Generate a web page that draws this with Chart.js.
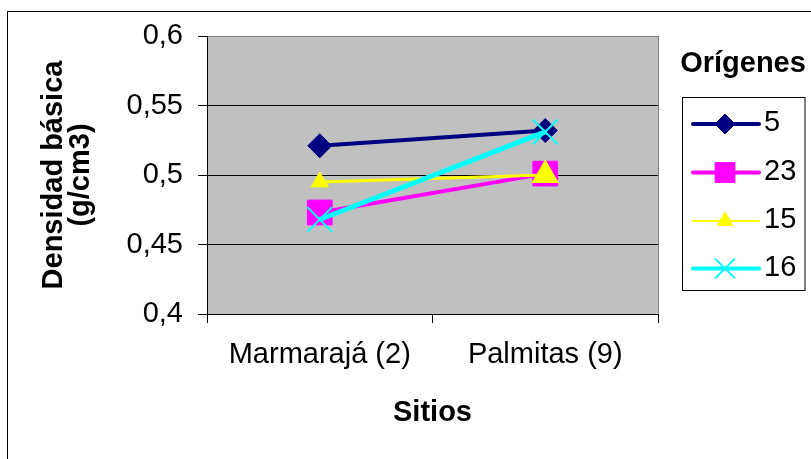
<!DOCTYPE html>
<html><head><meta charset="utf-8">
<script src="https://cdn.jsdelivr.net/npm/chart.js@4"></script>
<style>html,body{margin:0;padding:0;background:#fff;} canvas{display:block;}</style>
</head><body>
<canvas id="c" width="811" height="459"></canvas>
<script>
const categories = ['Marmarajá (2)', 'Palmitas (9)'];
const seriesNames = ['5', '23', '15', '16'];
const s5  = [0.521, 0.532];
const s23 = [0.473, 0.501];
const s15 = [0.495, 0.500];
const s16 = [0.468, 0.531];
const yTickLabels = ['0,4', '0,45', '0,5', '0,55', '0,6'];
const yTitle = ['Densidad básica', '(g/cm3)'];
const xTitle = 'Sitios';
const legendTitle = 'Orígenes';

const FONT = "'Liberation Sans', Arial, sans-serif";
Chart.defaults.font.family = FONT;
Chart.defaults.color = '#000';

const styles = [
  {color:'#000080', lw:4, legLw:4, ps:'rectRot', r:12, legR:10, bw:1},
  {color:'#FF00FF', lw:4, legLw:4, ps:'rect', r:17.5, legR:14, bw:1},
  {color:'#FFFF00', lw:3, legLw:2, ps:'triangle', r:[10,15], legR:9, bw:1},
  {color:'#00FFFF', lw:5, legLw:4, ps:'crossRot', r:17.5, legR:14, bw:2}
];
const seriesData = [s5, s23, s15, s16];

const datasets = seriesData.map((d, i) => ({
  label: seriesNames[i],
  data: d,
  borderColor: styles[i].color,
  backgroundColor: styles[i].color,
  borderWidth: styles[i].lw,
  pointStyle: styles[i].ps,
  pointRadius: styles[i].r,
  pointHoverRadius: styles[i].r,
  pointBorderWidth: styles[i].bw,
  pointBackgroundColor: styles[i].color,
  pointBorderColor: styles[i].color,
  tension: 0,
  order: 4 - i,
  clip: false
}));

const framePlugin = {
  id: 'frame',
  beforeDraw(chart) {
    const ctx = chart.ctx, a = chart.chartArea;
    ctx.save();
    ctx.strokeStyle = '#000';
    ctx.lineWidth = 1;
    ctx.strokeRect(7.5, 11.5, 1000, 1000);
    ctx.fillStyle = '#C0C0C0';
    ctx.fillRect(a.left, a.top, a.right - a.left, a.bottom - a.top);
    ctx.restore();
  },
  beforeDatasetsDraw(chart) {
    const ctx = chart.ctx, a = chart.chartArea;
    ctx.save();
    ctx.strokeStyle = '#808080';
    ctx.lineWidth = 1;
    ctx.beginPath();
    ctx.moveTo(Math.round(a.right) + 0.5, a.top);
    ctx.lineTo(Math.round(a.right) + 0.5, a.bottom);
    ctx.stroke();
    ctx.restore();
  }
};

const legendPlugin = {
  id: 'customLegend',
  afterDraw(chart) {
    const ctx = chart.ctx;
    ctx.save();
    ctx.fillStyle = '#000';
    ctx.font = 'bold 29px ' + FONT;
    ctx.textAlign = 'center';
    ctx.textBaseline = 'middle';
    ctx.fillText(legendTitle, 743, 63.5);
    ctx.fillStyle = '#fff';
    ctx.fillRect(683, 98, 122, 193);
    ctx.strokeStyle = '#000';
    ctx.lineWidth = 1;
    ctx.strokeRect(682.5, 97.5, 122.5, 193);
    const rows = [124, 172.5, 221, 268.5];
    seriesNames.forEach((name, i) => {
      const st = styles[i], y = rows[i];
      ctx.strokeStyle = st.color;
      ctx.fillStyle = st.color;
      ctx.lineWidth = st.legLw;
      ctx.lineCap = 'round';
      ctx.beginPath();
      ctx.moveTo(693, y);
      ctx.lineTo(759, y);
      ctx.stroke();
      ctx.lineCap = 'butt';
      ctx.lineWidth = st.bw;
      Chart.helpers.drawPoint(ctx, {pointStyle: st.ps, radius: st.legR, borderWidth: st.bw, rotation: 0}, 725, y);
      ctx.fillStyle = '#000';
      ctx.font = '29px ' + FONT;
      ctx.textAlign = 'left';
      ctx.textBaseline = 'middle';
      ctx.fillText(name, 764, y - 1);
    });
    ctx.restore();
  }
};

new Chart(document.getElementById('c'), {
  type: 'line',
  data: { labels: categories, datasets },
  options: {
    responsive: false,
    animation: false,
    devicePixelRatio: 1,
    layout: { padding: { left: 0, top: 36, right: 153, bottom: 0 } },
    plugins: { legend: { display: false }, tooltip: { enabled: false } },
    scales: {
      x: {
        offset: true,
        grid: { offset: true, drawOnChartArea: false, drawTicks: true, tickLength: 9, color: '#000' },
        border: { color: '#000', width: 1 },
        ticks: { font: { size: 29 }, padding: 15, color: '#000', maxRotation: 0, autoSkip: false },
        title: { display: true, text: xTitle, font: { size: 29, weight: 'bold' }, padding: { top: 0, bottom: 29 }, color: '#000' },
        afterFit(scale) { scale.height = 145; }
      },
      y: {
        min: 0.4, max: 0.6,
        ticks: { stepSize: 0.05, font: { size: 29 }, padding: 15, color: '#000',
          callback: (v, i) => yTickLabels[i] },
        grid: { color: (c) => (c.tick && Math.abs(c.tick.value - 0.6) < 1e-9) ? '#808080' : '#000', tickColor: '#000', tickLength: 9, lineWidth: 1 },
        border: { color: '#000', width: 1 },
        title: { display: true, text: yTitle, font: { size: 29, weight: 'bold', lineHeight: 0.95 }, padding: { top: 40, bottom: 0 }, color: '#000' },
        afterFit(scale) { scale.width = 207; }
      }
    }
  },
  plugins: [framePlugin, legendPlugin]
});
</script>
</body></html>
